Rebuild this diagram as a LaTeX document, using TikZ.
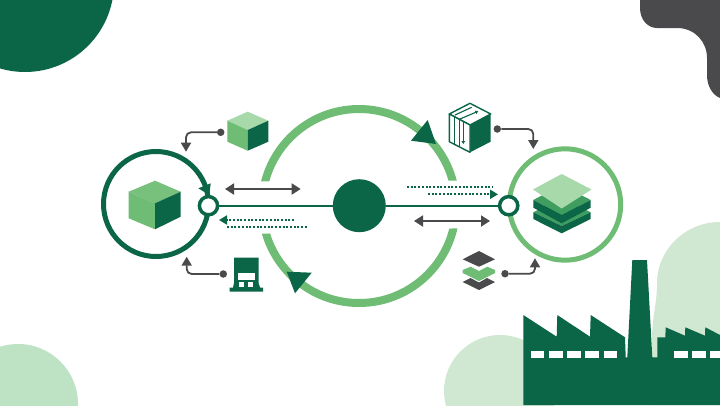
\documentclass[tikz,border=0pt]{standalone}
\usetikzlibrary{arrows.meta,calc}
\definecolor{deep}{HTML}{0B6648}
\definecolor{leaf}{HTML}{6FBD75}
\definecolor{mint}{HTML}{A8D9AB}
\definecolor{mid}{HTML}{3F9E5F}
\definecolor{slate}{HTML}{4A4A4C}
\definecolor{paleA}{HTML}{BDE2C4}
\definecolor{paleB}{HTML}{D0E8D2}
\tikzset{
  port/.style={circle,draw=deep,fill=white,line width=3.5pt,minimum size=18.2pt,inner sep=0pt},
  hubdisc/.style={circle,fill=deep,minimum size=53pt,inner sep=0pt},
  startdot/.style={circle,fill=slate,minimum size=7.5pt,inner sep=0pt},
  link/.style={draw=deep,line width=2pt},
  feed/.style={draw=slate,line width=1.8pt,rounded corners=5pt,-{Triangle[length=9pt,width=10pt]}},
  twoway/.style={draw=slate,line width=1.8pt,{Triangle[length=9pt,width=11pt]}-{Triangle[length=9pt,width=11pt]}},
  dots/.style={draw=deep,line width=1.8pt,dash pattern=on 2pt off 1.7pt},
  dotsarrow/.style={dots,-{Triangle[length=8pt,width=9pt]}},
  outline/.style={draw=deep,line width=1.4pt,line join=round}
}
\begin{document}
\begin{tikzpicture}[x=1pt,y=-1pt]
\useasboundingbox (0,0) rectangle (720,405);
\fill[white] (0,0) rectangle (720,405);

% corner shapes
\begin{scope}
  \clip (0,0) rectangle (720,405);
  \fill[deep] (25,-17) circle[radius=89pt];
  \fill[paleA] (18,404) circle[radius=60pt];
  \fill[paleB] (500,391) circle[radius=56pt];
  \fill[paleB] (720,222) .. controls (685,222) and (657,250) .. (657,283)
     .. controls (657,305) and (652,315) .. (652,340) -- (652,405) -- (720,405) -- cycle;
  \fill[slate] (640,0) -- (640,8) .. controls (640,20) and (648,28) .. (657,28) -- (677,28)
     .. controls (695,28) and (707,42) .. (707,58) -- (707,75)
     .. controls (707,87) and (713,95) .. (720,98) -- (720,0) -- cycle;

  % factory silhouette
  \fill[deep] (523.3,405) -- (523.3,315) -- (556.7,336.7) -- (557.3,315) -- (590,336.7) -- (590.7,315)
     -- (625,337.3) -- (625.7,357.3) -- (627.3,357.3) -- (632.3,260) -- (647,260) -- (652.3,357.3)
     -- (657.3,357.3) -- (657.3,337.3) -- (665.3,337.3) -- (665.7,327.3) -- (685,335.7) -- (685.3,327.3)
     -- (705,335.7) -- (705.3,327.3) -- (720,335) -- (720,405) -- cycle;
  \foreach \a/\b in {531/544.3,549.3/562.7,567.3/580.7,585.3/599,603.7/617,674/687.7,692.3/705.7,710.3/724}
    \fill[white] (\a,350.7) rectangle (\b,358);
\end{scope}

% main cycle ring, cut level on both sides of the axis
\begin{scope}
  \clip (250,90) -- (470,90) -- (470,180.5) -- (250,181.5) -- cycle
        (250,234) -- (470,228) -- (470,320) -- (250,320) -- cycle;
  \draw[leaf,line width=8pt] (359,206) circle[radius=97pt];
\end{scope}

% side rings
\draw[deep,line width=5pt] (156,204) circle[radius=52.5pt];
\draw[leaf,line width=5pt] (565,204.5) circle[radius=55.7pt];

% hub, ports and the axis through them
\node[hubdisc] (hub) at (359.3,205.7) {};
\node[port] (portL) at (208.5,205.7) {};
\node[port] (portR) at (508.7,205.7) {};
\draw[link] (portL) -- (hub);
\draw[link] (hub) -- (portR);

% direction markers
\fill[deep] (427.7,120) -- (411,140.7) -- (436,144) -- cycle;
\fill[deep] (286.7,271.7) -- (311.7,272.7) -- (295,293.3) -- cycle;
\fill[deep] (198.3,188.3) -- (210.7,183.3) -- (209.3,195) -- cycle;

% two-way exchange arrows
\coordinate (xa) at (225,189); \coordinate (xb) at (300.7,189);
\coordinate (ya) at (414,221); \coordinate (yb) at (490,221);
\draw[twoway] (xa) -- (xb);
\draw[twoway] (ya) -- (yb);

% dotted flows
\coordinate (da) at (294,220); \coordinate (db) at (219,220);
\coordinate (dc) at (227,227); \coordinate (dd) at (308,227);
\coordinate (de) at (407,187); \coordinate (df) at (493,187);
\coordinate (dg) at (428,194.3); \coordinate (dh) at (498,194.3);
\draw[dotsarrow] (da) -- (db);
\draw[dots] (dc) -- (dd);
\draw[dots] (de) -- (df);
\draw[dotsarrow] (dg) -- (dh);

% feeder connectors
\node[startdot] (s1) at (220.7,132.3) {};
\node[startdot] (s2) at (223.3,274) {};
\node[startdot] (s3) at (497.3,129) {};
\node[startdot] (s4) at (505,273.7) {};
\coordinate (t1) at (186,151.7);
\coordinate (t2) at (186.7,256.7);
\coordinate (t3) at (533.3,149);
\coordinate (t4) at (535,258.3);
\draw[feed] (s1) -| (t1);
\draw[feed] (s2) -| (t2);
\draw[feed] (s3) -| (t3);
\draw[feed] (s4) -| (t4);

% large cube
\fill[leaf!85!mint] (155,180.7) -- (128.7,191.7) -- (155,203.3) -- (180.7,191.7) -- cycle;
\fill[leaf] (128.7,191.7) -- (155,203.3) -- (155,229.3) -- (128.7,218.3) -- cycle;
\fill[deep] (180.7,191.7) -- (155,203.3) -- (155,229.3) -- (180.7,216.7) -- cycle;

% small cube
\fill[mint] (247.7,111.7) -- (227.3,120.7) -- (247.7,130) -- (268.3,120.7) -- cycle;
\fill[leaf] (227.3,120.7) -- (247.7,130) -- (247.7,150.7) -- (227.3,141.7) -- cycle;
\fill[deep] (268.3,120.7) -- (247.7,130) -- (247.7,150.7) -- (268.3,141.7) -- cycle;

% packed box
\fill[deep] (490.7,114) -- (470,125) -- (470,152.3) -- (490.7,141.7) -- cycle;
\draw[outline,fill=white] (470,103.3) -- (449.3,114) -- (470,125) -- (490.7,114) -- cycle;
\draw[outline,fill=white] (449.3,114) -- (470,125) -- (470,152.3) -- (449.3,141.7) -- cycle;
\draw[deep,line width=1.1pt] (454.3,116.7) -- (454.3,144.5);
\draw[deep,line width=1.1pt] (459.3,119.3) -- (459.3,147);
\draw[deep,line width=1.1pt,-{Triangle[length=3pt,width=3.5pt]}] (463.3,121.5) -- (463.3,144);
\draw[deep,line width=1.1pt] (455,115) -- (471.7,107.3);
\draw[deep,line width=1.1pt,-{Triangle[length=3pt,width=3.5pt]}] (459.3,119.3) -- (478.3,111.2);

% works icon
\fill[deep] (234,257.7) -- (258.5,257.7) -- (258.5,283) -- (260,287.5) -- (263,287.5) -- (263,291.7)
   -- (229.5,291.7) -- (229.5,287.5) -- (233,287.5) -- (234,283) -- cycle;
\fill[white] (237.7,273.3) rectangle (254.5,280);
\fill[white] (239.3,282.3) rectangle (243.6,286.7);
\fill[white] (248.3,282.3) rectangle (252.6,286.7);

% layered icon, small
\fill[slate] (479,251) -- (462.7,259.3) -- (479,266.7) -- (495,259.3) -- cycle;
\fill[leaf] (462.7,270) -- (470.7,266.7) -- (479,271) -- (487.3,266.7) -- (495,270) -- (495,273)
   -- (479,281) -- (462.7,273) -- cycle;
\fill[slate] (462.7,282) -- (470.5,278) -- (479,282.5) -- (487,278) -- (495,282) -- (479,290) -- cycle;

% layered icon, large
\fill[mid] (533.3,212.3) -- (561.7,226) -- (590.7,212.3) -- (561.7,198) -- cycle;
\fill[deep] (533.3,212.3) -- (533.3,219) -- (561.7,233.3) -- (590.7,219) -- (590.7,212.3) -- (561.7,226) -- cycle;
\fill[mid] (533.3,200) -- (561.7,215) -- (590.7,200) -- (561.7,185) -- cycle;
\fill[deep] (533.3,200) -- (533.3,207.7) -- (561.7,223.3) -- (590.7,207.7) -- (590.7,200) -- (561.7,215) -- cycle;
\fill[mint] (561.7,174) -- (533,189.5) -- (561.7,208.5) -- (591.5,189.5) -- cycle;
\end{tikzpicture}
\end{document}
